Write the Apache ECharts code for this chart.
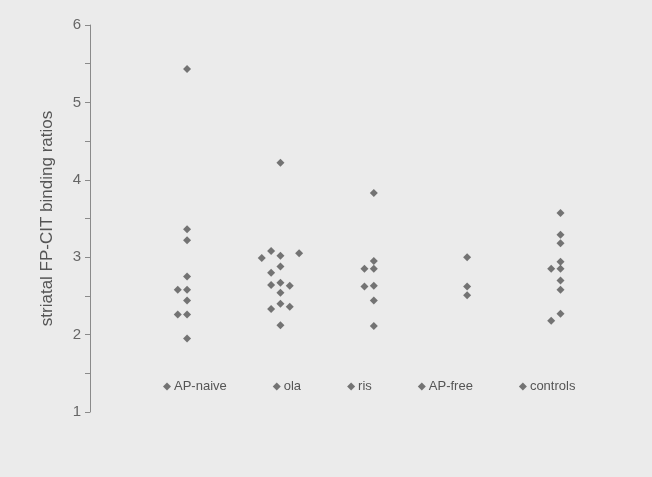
<!DOCTYPE html>
<html>
<head>
<meta charset="utf-8">
<script src="https://cdn.jsdelivr.net/npm/echarts@6/dist/echarts.min.js"></script>
<style>
html,body{margin:0;padding:0;background:#ebebeb;}
#c{width:652px;height:477px;}
</style>
</head>
<body>
<div id="c"></div>
<script>
// Group names and x positions (group index with small horizontal offsets)
const groups = ["AP-naive", "ola", "ris", "AP-free", "controls"];
const yTicks = [1, 2, 3, 4, 5, 6];

// [x position, binding ratio]
const apNaive = [[1,5.43],[1,3.36],[1,3.22],[1,2.75],[0.9,2.58],[1,2.58],[1,2.44],[0.9,2.26],[1,2.26],[1,1.95]];
const ola = [[2,4.22],[1.9,3.08],[1.8,2.99],[2,3.02],[2.2,3.05],[2,2.88],[1.9,2.80],[1.9,2.64],[2,2.67],[2.1,2.63],[2,2.54],[2,2.40],[1.9,2.33],[2.1,2.36],[2,2.12]];
const ris = [[3,3.83],[3,2.95],[2.9,2.85],[3,2.85],[2.9,2.62],[3,2.63],[3,2.44],[3,2.11]];
const apFree = [[4,3.00],[4,2.62],[4,2.51]];
const controls = [[5,3.57],[5,3.29],[5,3.18],[5,2.94],[4.9,2.85],[5,2.85],[5,2.70],[5,2.58],[5,2.27],[4.9,2.18]];

const seriesData = [apNaive, ola, ris, apFree, controls];
const chart = echarts.init(document.getElementById('c'));
const markColor = '#555555';
const font = 'Liberation Sans, Arial, sans-serif';

chart.setOption({
  backgroundColor: '#ebebeb',
  animation: false,
  textStyle: { fontFamily: font },
  grid: { left: 90, right: 0, top: 25, bottom: 65 },
  legend: {
    left: 158, top: 375,
    itemWidth: 8, itemHeight: 8, itemGap: 46,
    icon: 'diamond',
    textStyle: { color: '#555', fontSize: 13, fontFamily: font, padding: [0,0,0,-2] },
    data: groups
  },
  xAxis: { type: 'value', min: -0.04, max: 5.98, show: false },
  yAxis: {
    type: 'value', min: yTicks[0], max: yTicks[yTicks.length-1], interval: 1,
    name: 'striatal FP-CIT binding ratios',
    nameLocation: 'middle', nameGap: 34, nameRotate: 90,
    nameTextStyle: { color: '#555', fontSize: 17, fontFamily: font },
    axisLine: { show: true, onZero: false, lineStyle: { color: '#8a8a8a', width: 1 } },
    axisTick: { show: true, length: 5, lineStyle: { color: '#8a8a8a' } },
    minorTick: { show: true, splitNumber: 2, length: 5, lineStyle: { color: '#8a8a8a' } },
    axisLabel: { color: '#666', fontSize: 15, margin: 9, fontFamily: font },
    splitLine: { show: false }
  },
  series: groups.map((g, i) => ({
    name: g, type: 'scatter', symbol: 'diamond', symbolSize: 8,
    itemStyle: { color: markColor },
    data: seriesData[i]
  }))
});
</script>
</body>
</html>
